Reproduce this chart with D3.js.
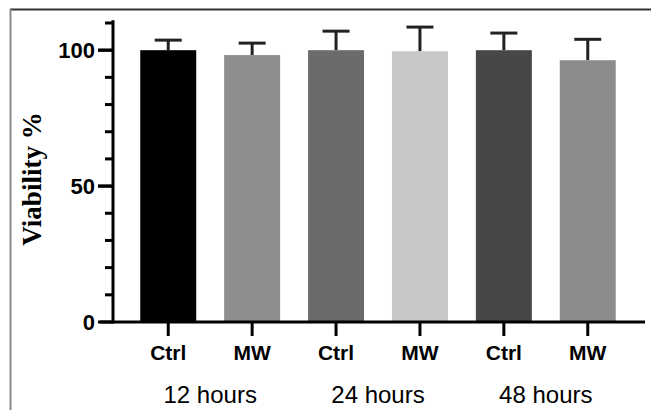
<!DOCTYPE html>
<html>
<head>
<meta charset="utf-8">
<script src="https://cdn.jsdelivr.net/npm/d3@7"></script>
<style>
  body { margin: 0; background: #fff; }
  svg { display: block; }
</style>
</head>
<body>
<svg width="651" height="410"></svg>
<script>
const groups = ['12 hours', '24 hours', '48 hours'];
const treatments = ['Ctrl', 'MW', 'Ctrl', 'MW', 'Ctrl', 'MW'];
const viability = [100, 98.2, 100, 99.6, 100, 96.3];
const sem = [3.7, 4.4, 7, 8.9, 6.3, 7.7];
const barColors = ['#000000', '#8e8e8e', '#6b6b6b', '#c8c8c8', '#474747', '#8c8c8c'];
const yTicks = [0, 50, 100];

const svg = d3.select('svg');

// frame lines
svg.append('line').attr('x1', 10).attr('x2', 651).attr('y1', 9.5).attr('y2', 9.5)
    .attr('stroke', '#333').attr('stroke-width', 2);
svg.append('line').attr('x1', 10.5).attr('x2', 10.5).attr('y1', 9).attr('y2', 410)
    .attr('stroke', '#888').attr('stroke-width', 2);

const x = d3.scaleBand()
    .domain(d3.range(treatments.length))
    .range([126, 630])
    .paddingInner(0.333)
    .paddingOuter(0.17);

const y = d3.scaleLinear().domain([0, 110]).range([322, 23]);

const bars = treatments.map((t, i) => ({ i, t, v: viability[i], e: sem[i] }));

// error bars (drawn under the bars so only the upper half shows)
const eb = svg.append('g').attr('stroke', '#222').attr('stroke-width', 3);
eb.selectAll('line.v').data(bars).enter().append('line')
    .attr('x1', d => x(d.i) + x.bandwidth() / 2)
    .attr('x2', d => x(d.i) + x.bandwidth() / 2)
    .attr('y1', d => y(d.v))
    .attr('y2', d => y(d.v + d.e));
eb.selectAll('line.c').data(bars).enter().append('line')
    .attr('x1', d => x(d.i) + x.bandwidth() / 2 - 13.5)
    .attr('x2', d => x(d.i) + x.bandwidth() / 2 + 13.5)
    .attr('y1', d => y(d.v + d.e))
    .attr('y2', d => y(d.v + d.e));

svg.append('g').selectAll('rect').data(bars).enter().append('rect')
    .attr('x', d => x(d.i))
    .attr('width', x.bandwidth())
    .attr('y', d => y(d.v))
    .attr('height', d => y(0) - y(d.v))
    .attr('fill', (d, i) => barColors[i]);

// y axis
const yAxis = svg.append('g').attr('transform', 'translate(113,0)');
yAxis.append('line').attr('x1', 0).attr('x2', 0).attr('y1', y(111)).attr('y2', y(0) + 1.5)
    .attr('stroke', '#000').attr('stroke-width', 3);
yAxis.selectAll('line.minor').data(d3.range(10, 111, 10)).enter().append('line')
    .attr('x1', d => yTicks.includes(d) ? -15 : -8).attr('x2', 0)
    .attr('y1', d => y(d)).attr('y2', d => y(d))
    .attr('stroke', '#000').attr('stroke-width', 3);
yAxis.selectAll('line.major').data(yTicks).enter().append('line')
    .attr('x1', -15).attr('x2', 0)
    .attr('y1', d => y(d)).attr('y2', d => y(d))
    .attr('stroke', '#000').attr('stroke-width', 3);
yAxis.selectAll('text').data(yTicks).enter().append('text')
    .attr('x', -18).attr('y', d => y(d)).attr('dy', '0.36em')
    .attr('text-anchor', 'end')
    .attr('font-family', 'Liberation Sans, Arial, sans-serif')
    .attr('font-weight', 'bold').attr('font-size', 22)
    .text(d => d);

svg.append('text')
    .attr('transform', 'translate(41,179) rotate(-90)')
    .attr('text-anchor', 'middle')
    .attr('font-family', 'Liberation Serif, Times New Roman, serif')
    .attr('font-weight', 'bold').attr('font-size', 27)
    .text('Viability %');

// x axis
const xAxis = svg.append('g');
xAxis.append('line').attr('x1', 100).attr('x2', 645).attr('y1', y(0)).attr('y2', y(0))
    .attr('stroke', '#000').attr('stroke-width', 3);
xAxis.selectAll('line.t').data(bars).enter().append('line')
    .attr('x1', d => x(d.i) + x.bandwidth() / 2).attr('x2', d => x(d.i) + x.bandwidth() / 2)
    .attr('y1', y(0)).attr('y2', y(0) + 14)
    .attr('stroke', '#000').attr('stroke-width', 3);
xAxis.selectAll('text.t').data(bars).enter().append('text')
    .attr('x', d => x(d.i) + x.bandwidth() / 2).attr('y', 360)
    .attr('text-anchor', 'middle')
    .attr('font-family', 'Liberation Sans, Arial, sans-serif')
    .attr('font-weight', 'bold').attr('font-size', 21)
    .text(d => d.t);
xAxis.selectAll('text.g').data(groups).enter().append('text')
    .attr('x', (d, i) => (x(2 * i) + x(2 * i + 1) + x.bandwidth()) / 2).attr('y', 403)
    .attr('text-anchor', 'middle')
    .attr('font-family', 'Liberation Sans, Arial, sans-serif')
    .attr('font-size', 24)
    .text(d => d);
</script>
</body>
</html>
